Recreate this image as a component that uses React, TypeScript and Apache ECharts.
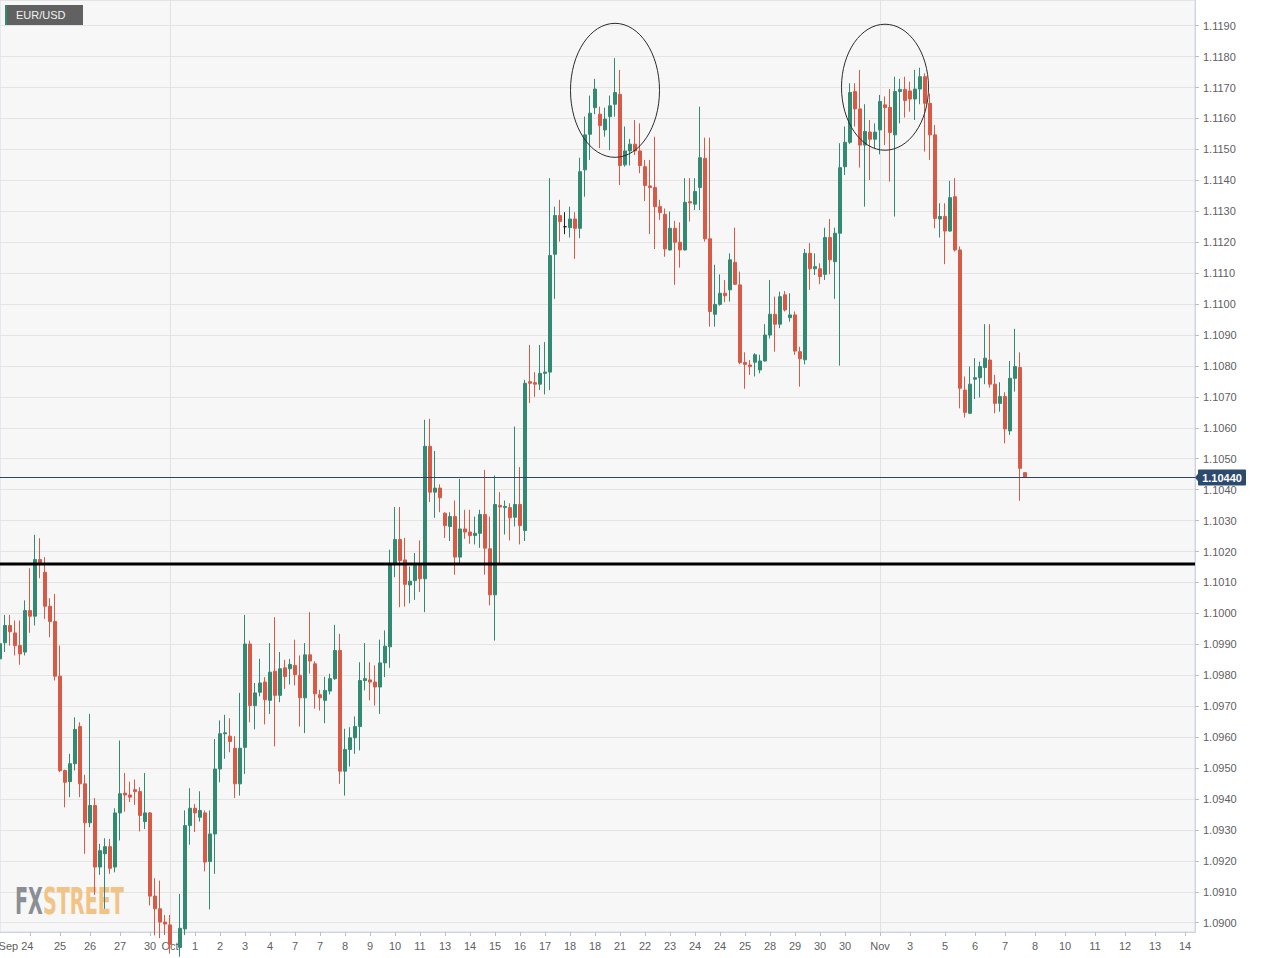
import React, { useEffect, useRef } from "react";
import * as echarts from "echarts";

// 4-hour EUR/USD candles, index 0 = left edge of the chart
const opens = [
  1.09853, 1.09905, 1.09961, 1.09937, 1.09896, 1.09875, 1.10009, 1.09991, 1.10174, 1.10133,
  1.10023, 1.09974, 1.09797, 1.09492, 1.09456, 1.09514, 1.09634, 1.09449, 1.09323, 1.09379,
  1.0918, 1.09223, 1.09246, 1.0918, 1.09355, 1.09419, 1.09413, 1.0943, 1.09424, 1.09327,
  1.09355, 1.09086, 1.09045, 1.09002, 1.08993, 1.0893, 1.0892, 1.0898, 1.09314, 1.0937,
  1.09341, 1.09355, 1.09198, 1.09287, 1.09497, 1.09611, 1.09603, 1.09564, 1.09449, 1.09567,
  1.09901, 1.09702, 1.09745, 1.09778, 1.09719, 1.09813, 1.09735, 1.09824, 1.09821, 1.09832,
  1.098, 1.09727, 1.09866, 1.09837, 1.09737, 1.09719, 1.09749, 1.09789, 1.0988, 1.0949,
  1.0956, 1.09598, 1.09634, 1.09783, 1.09785, 1.09778, 1.09762, 1.0984, 1.09892, 1.1016,
  1.10239, 1.10173, 1.10092, 1.10106, 1.10155, 1.10112, 1.1054, 1.10392, 1.10405, 1.10324,
  1.10281, 1.10313, 1.10182, 1.10273, 1.10263, 1.10252, 1.10259, 1.1032, 1.10209, 1.1006,
  1.10349, 1.10342, 1.10342, 1.10311, 1.10352, 1.10268, 1.10749, 1.10746, 1.10741, 1.10776,
  1.1078, 1.11161, 1.11286, 1.1125, 1.11247, 1.11275, 1.11245, 1.11434, 1.11549, 1.11635,
  1.11614, 1.11563, 1.11606, 1.11646, 1.11678, 1.1145, 1.11495, 1.11517, 1.11495, 1.11444,
  1.11382, 1.11377, 1.11315, 1.1129, 1.11175, 1.11245, 1.112, 1.11175, 1.11331, 1.11323,
  1.11377, 1.11471, 1.11211, 1.10967, 1.10999, 1.11035, 1.11046, 1.11135, 1.11062, 1.10811,
  1.10803, 1.10812, 1.10787, 1.10816, 1.109, 1.10967, 1.10935, 1.1103, 1.10956, 1.10965,
  1.10846, 1.1082, 1.11164, 1.11114, 1.11114, 1.11096, 1.11215, 1.11137, 1.11229, 1.11444,
  1.11523, 1.11687, 1.11631, 1.11514, 1.11556, 1.11533, 1.11563, 1.11644, 1.11636, 1.11547,
  1.11687, 1.11694, 1.11689, 1.11663, 1.11695, 1.11735, 1.11649, 1.11547, 1.11275, 1.11283,
  1.11236, 1.11347, 1.11175, 1.10722, 1.10647, 1.10757, 1.10762, 1.10795, 1.10819, 1.10741,
  1.10679, 1.10701, 1.1059, 1.1076, 1.10795, 1.10455,
];
const closes = [
  1.09902, 1.09961, 1.09941, 1.09896, 1.09869, 1.10009, 1.09991, 1.10174, 1.1016, 1.10023,
  1.09974, 1.09797, 1.09492, 1.09454, 1.09514, 1.09625, 1.09449, 1.09323, 1.09379, 1.0918,
  1.09233, 1.09246, 1.09176, 1.09355, 1.09417, 1.09413, 1.09406, 1.09424, 1.09347, 1.09355,
  1.09086, 1.09045, 1.09002, 1.08996, 1.0893, 1.0891, 1.08982, 1.09314, 1.0937, 1.09355,
  1.09363, 1.09196, 1.09287, 1.09497, 1.09611, 1.09614, 1.09586, 1.09449, 1.09564, 1.09901,
  1.09702, 1.09743, 1.09775, 1.09721, 1.0981, 1.09735, 1.09821, 1.09796, 1.09835, 1.09802,
  1.09727, 1.09866, 1.09846, 1.0974, 1.09727, 1.09751, 1.09789, 1.0988, 1.0949, 1.0956,
  1.09598, 1.09634, 1.09783, 1.09789, 1.09778, 1.09762, 1.0984, 1.09894, 1.1016, 1.10239,
  1.10171, 1.10094, 1.10104, 1.10155, 1.10112, 1.1054, 1.10392, 1.10405, 1.10374, 1.10284,
  1.10313, 1.10182, 1.10273, 1.10263, 1.10252, 1.10259, 1.1032, 1.10211, 1.1006, 1.10352,
  1.10344, 1.10346, 1.10309, 1.10352, 1.10284, 1.10744, 1.10744, 1.10741, 1.10776, 1.1078,
  1.11157, 1.11286, 1.11267, 1.1125, 1.11275, 1.11245, 1.11428, 1.11547, 1.11617, 1.11695,
  1.11577, 1.11598, 1.11641, 1.11684, 1.11448, 1.11495, 1.11517, 1.11495, 1.11448, 1.11383,
  1.11377, 1.11315, 1.11296, 1.11178, 1.11245, 1.112, 1.11175, 1.11329, 1.11327, 1.11364,
  1.11473, 1.11211, 1.10976, 1.10999, 1.11035, 1.11027, 1.11143, 1.11064, 1.10811, 1.10805,
  1.10798, 1.10836, 1.10816, 1.109, 1.10967, 1.10935, 1.11024, 1.10981, 1.10965, 1.10848,
  1.10823, 1.11164, 1.11114, 1.11121, 1.11089, 1.11215, 1.11143, 1.11229, 1.11441, 1.11523,
  1.11684, 1.11631, 1.11514, 1.11558, 1.11533, 1.11556, 1.11655, 1.11635, 1.11555, 1.11687,
  1.11694, 1.11658, 1.11663, 1.11695, 1.11735, 1.11649, 1.11547, 1.11277, 1.11283, 1.11236,
  1.11344, 1.11175, 1.10728, 1.1065, 1.10741, 1.10762, 1.10798, 1.10825, 1.10741, 1.10679,
  1.10701, 1.10596, 1.1076, 1.10798, 1.10469, 1.1044,
];
const lows = [
  1.09799, 1.09875, 1.09896, 1.09864, 1.09834, 1.09864, 1.09937, 1.09961, 1.10114, 1.09982,
  1.09923, 1.09783, 1.09487, 1.09373, 1.09406, 1.09492, 1.09406, 1.09223, 1.09309, 1.0909,
  1.09155, 1.09045, 1.09158, 1.09163, 1.09266, 1.09359, 1.0939, 1.09381, 1.09295, 1.09303,
  1.09056, 1.08959, 1.0895, 1.0896, 1.089, 1.0887, 1.0889, 1.0896, 1.09252, 1.09293,
  1.09327, 1.09166, 1.09043, 1.09158, 1.09454, 1.0953, 1.09551, 1.09403, 1.09411, 1.09481,
  1.09648, 1.09625, 1.09732, 1.09641, 1.09675, 1.0957, 1.09713, 1.09756, 1.0977, 1.09767,
  1.09634, 1.09613, 1.09805, 1.09692, 1.09686, 1.09645, 1.09738, 1.09785, 1.09449, 1.09411,
  1.09505, 1.09546, 1.09557, 1.09751, 1.09719, 1.09702, 1.09675, 1.09794, 1.09824, 1.10117,
  1.1002, 1.10022, 1.10033, 1.10044, 1.10069, 1.10004, 1.1036, 1.10309, 1.10327, 1.10244,
  1.10234, 1.10125, 1.10162, 1.10241, 1.10225, 1.10223, 1.10212, 1.10125, 1.10026, 1.09912,
  1.10158, 1.10255, 1.10236, 1.10281, 1.10223, 1.10234, 1.1068, 1.107, 1.10722, 1.10708,
  1.10722, 1.11017, 1.11202, 1.11226, 1.11215, 1.11146, 1.11213, 1.11347, 1.11466, 1.11614,
  1.11504, 1.11541, 1.11498, 1.11606, 1.11385, 1.11444, 1.11448, 1.11482, 1.11423, 1.11333,
  1.11226, 1.11178, 1.11272, 1.11153, 1.11173, 1.11062, 1.11118, 1.11173, 1.11267, 1.11304,
  1.11304, 1.11202, 1.10927, 1.10927, 1.10995, 1.11006, 1.11008, 1.11062, 1.10805, 1.10726,
  1.10771, 1.10766, 1.10776, 1.10814, 1.10889, 1.10846, 1.10922, 1.10976, 1.10943, 1.10836,
  1.10733, 1.10805, 1.11046, 1.11094, 1.11064, 1.11078, 1.11096, 1.11017, 1.10801, 1.11417,
  1.11517, 1.11574, 1.11441, 1.11315, 1.11401, 1.11504, 1.11484, 1.11514, 1.11396, 1.11283,
  1.11584, 1.11603, 1.11622, 1.11595, 1.11646, 1.11493, 1.11466, 1.11245, 1.11215, 1.11129,
  1.11234, 1.1117, 1.10663, 1.10633, 1.10644, 1.10693, 1.10698, 1.10741, 1.1073, 1.10647,
  1.10652, 1.1055, 1.10577, 1.10717, 1.10364, 1.1044,
];
const highs = [
  1.10015, 1.09995, 1.09995, 1.09977, 1.09977, 1.10042, 1.10146, 1.10254, 1.10243, 1.10182,
  1.10049, 1.10063, 1.09896, 1.09495, 1.09546, 1.09664, 1.09648, 1.09478, 1.09675, 1.09403,
  1.09255, 1.09273, 1.09271, 1.0937, 1.09589, 1.09484, 1.09456, 1.09463, 1.09438, 1.09484,
  1.09358, 1.09144, 1.09136, 1.09025, 1.09025, 1.0896, 1.09093, 1.09363, 1.09435, 1.09384,
  1.09425, 1.09363, 1.09363, 1.09594, 1.09654, 1.09672, 1.09661, 1.09603, 1.09743, 1.09995,
  1.09912, 1.09775, 1.09853, 1.09794, 1.09904, 1.09988, 1.09875, 1.0985, 1.09853, 1.09915,
  1.09864, 1.09904, 1.10004, 1.09845, 1.09753, 1.09795, 1.09805, 1.09963, 1.09934, 1.09627,
  1.09632, 1.09667, 1.09842, 1.09904, 1.09842, 1.09832, 1.09915, 1.09945, 1.10206, 1.10344,
  1.10344, 1.10244, 1.10152, 1.10195, 1.10236, 1.10626, 1.10629, 1.10525, 1.10417, 1.10327,
  1.10327, 1.10365, 1.10435, 1.10335, 1.10335, 1.10313, 1.10335, 1.10464, 1.10313, 1.10446,
  1.10392, 1.10365, 1.10356, 1.10604, 1.10473, 1.10755, 1.10868, 1.1078, 1.10868, 1.10877,
  1.11407, 1.11315, 1.11337, 1.11297, 1.11315, 1.11297, 1.11473, 1.11606, 1.11674, 1.11728,
  1.11638, 1.11635, 1.11674, 1.11795, 1.11757, 1.11574, 1.11534, 1.11595, 1.11584, 1.11466,
  1.11466, 1.11541, 1.11337, 1.11309, 1.11299, 1.11269, 1.11264, 1.11407, 1.11407, 1.11407,
  1.11638, 1.11538, 1.11538, 1.11127, 1.11096, 1.11078, 1.11164, 1.11247, 1.11105, 1.10844,
  1.10819, 1.10841, 1.10836, 1.10935, 1.11078, 1.11024, 1.1104, 1.11042, 1.11035, 1.10976,
  1.10862, 1.11178, 1.11197, 1.11164, 1.11132, 1.11247, 1.11275, 1.11247, 1.1152, 1.11574,
  1.11714, 1.11714, 1.11757, 1.11646, 1.11595, 1.11584, 1.11676, 1.11671, 1.11695, 1.11735,
  1.11728, 1.11735, 1.11719, 1.11757, 1.11764, 1.11746, 1.11681, 1.11579, 1.11326, 1.11326,
  1.11398, 1.11407, 1.11186, 1.10766, 1.10798, 1.10825, 1.10814, 1.10935, 1.10935, 1.10771,
  1.10747, 1.10715, 1.10816, 1.1092, 1.10844, 1.10455,
];

// x axis: one slot per 4-hour bar, including the empty future area
const slotCount = 240;
const xLabelIndex = [
  6, 12, 18, 24, 30, 34, 39, 44, 49, 54, 59, 64, 69, 74, 79, 84, 89, 94, 99, 104, 109, 114,
  119, 124, 129, 134, 139, 144, 149, 154, 159, 164, 169, 176, 182, 189, 195, 201, 207, 213,
  219, 225, 231, 237,
];
const xLabelText = [
  "Sep 24", "25", "26", "27", "30", "Oct", "1", "2", "3", "4", "7", "7", "8", "9", "10", "11",
  "13", "14", "15", "16", "17", "18", "18", "21", "22", "23", "24", "24", "25", "28", "29",
  "30", "30", "Nov", "3", "5", "6", "7", "8", "10", "11", "12", "13", "14",
];
const monthLineIndex = [34, 176];

// y axis range
const yMin = 1.0897;
const yMax = 1.11983;

// annotations
const supportLevel = 1.1016;
const lastPrice = 1.1044;
const circleIndex = [123, 177.2];
const circlePrice = [1.11691, 1.11701];
const circleRx = [44.5, 43.5];
const circleRy = [67, 63];

const UP = "#338a72";
const DOWN = "#d75a47";
const NAVY = "#2c4a6e";
const FONT = '"Liberation Sans", Arial, sans-serif';

export default function App() {
  const ref = useRef<HTMLDivElement>(null);

  useEffect(() => {
    if (!ref.current) return;
    const chart = echarts.init(ref.current, undefined, { renderer: "svg" });

    const labelMap: Record<number, string> = {};
    xLabelIndex.forEach((ix, j) => {
      labelMap[ix] = xLabelText[j];
    });
    const categories = Array.from({ length: slotCount }, (_, i) => String(i));
    const data = opens.map((o, i) => [o, closes[i], lows[i], highs[i]]);

    chart.setOption({
      animation: false,
      grid: {
        left: 0,
        top: 0,
        width: 1195,
        height: 932,
        outerBoundsMode: "none",
        containLabel: false,
        show: true,
        backgroundColor: "#f7f7f7",
        borderColor: "#d5d9e8",
        borderWidth: 1,
      },
      xAxis: {
        type: "category",
        data: categories,
        boundaryGap: false,
        axisLine: { show: true, lineStyle: { color: "#cfd4e4" } },
        axisTick: {
          show: true,
          length: 4,
          interval: (i: number) => labelMap[i] !== undefined,
          lineStyle: { color: "#b9bece" },
        },
        axisLabel: {
          interval: (i: number) => labelMap[i] !== undefined,
          formatter: (_v: string, i: number) =>
            labelMap[i] === "Sep 24" ? "{s|Sep 24}" : labelMap[i] ?? "",
          color: "#606060",
          fontSize: 11,
          fontFamily: FONT,
          margin: 8,
          rich: {
            s: { padding: [0, 28, 0, 0], color: "#606060", fontSize: 11, fontFamily: FONT },
          },
        },
        splitLine: {
          show: true,
          interval: (i: number) => monthLineIndex.includes(i),
          lineStyle: { color: "#e2e2e2", width: 1 },
        },
      },
      yAxis: {
        type: "value",
        position: "right",
        min: yMin,
        max: yMax,
        splitNumber: 30,
        minInterval: 0.001,
        maxInterval: 0.001,
        axisLine: { show: true, lineStyle: { color: "#cfd4e4" } },
        axisTick: { show: true, length: 4, lineStyle: { color: "#b9bece" } },
        axisLabel: {
          formatter: (v: number) => v.toFixed(4),
          showMinLabel: false,
          showMaxLabel: false,
          color: "#606060",
          fontSize: 11,
          fontFamily: FONT,
          margin: 8,
        },
        splitLine: { show: true, lineStyle: { color: "#e4e4e4", width: 1 } },
      },
      series: [
        {
          type: "candlestick",
          data,
          barWidth: 4,
          clip: true,
          itemStyle: {
            color: UP,
            color0: DOWN,
            borderColor: UP,
            borderColor0: DOWN,
            borderColorDoji: "#1e1e1e",
            borderWidth: 1,
          },
        },
      ],
    });

    // annotations positioned from data coordinates
    const graphics: any[] = [];
    const toPx = (ix: number, v: number) =>
      chart.convertToPixel({ gridIndex: 0 }, [ix, v]) as number[];
    const plotLeft = toPx(0, yMin)[0];
    const plotRight = toPx(slotCount - 1, yMin)[0];

    // support level (thick black)
    const sy = toPx(0, supportLevel)[1];
    graphics.push({
      type: "line",
      z: 10,
      silent: true,
      shape: { x1: plotLeft, y1: sy, x2: plotRight, y2: sy },
      style: { stroke: "#000000", lineWidth: 3 },
    });

    // last price line and tag
    const ly = Math.round(toPx(0, lastPrice)[1]) + 0.5;
    graphics.push({
      type: "line",
      z: 10,
      silent: true,
      shape: { x1: plotLeft, y1: ly, x2: plotRight, y2: ly },
      style: { stroke: "#2c4668", lineWidth: 1 },
    });
    graphics.push({
      type: "polygon",
      z: 11,
      silent: true,
      shape: {
        points: [
          [plotRight, ly],
          [plotRight + 4, ly - 5],
          [plotRight + 4, ly + 5],
        ],
      },
      style: { fill: NAVY },
    });
    graphics.push({
      type: "rect",
      z: 11,
      silent: true,
      shape: { x: plotRight + 3, y: ly - 8, width: 48, height: 16, r: 1 },
      style: { fill: NAVY },
    });
    graphics.push({
      type: "text",
      z: 12,
      silent: true,
      x: plotRight + 27,
      y: ly,
      style: {
        text: lastPrice.toFixed(5),
        fill: "#ffffff",
        font: `bold 11px ${FONT}`,
        textAlign: "center",
        textVerticalAlign: "middle",
      },
    });

    // circled tops
    circleIndex.forEach((ix, j) => {
      const p = toPx(ix, circlePrice[j]);
      graphics.push({
        type: "ellipse",
        z: 10,
        silent: true,
        shape: { cx: p[0], cy: p[1], rx: circleRx[j], ry: circleRy[j] },
        style: { fill: "none", stroke: "#2b2b2b", lineWidth: 1 },
      });
    });

    // symbol box top-left
    graphics.push({
      type: "group",
      left: 5,
      top: 5,
      z: 20,
      silent: true,
      children: [
        { type: "rect", shape: { x: 0, y: 0, width: 78, height: 20 }, style: { fill: "#616161" } },
        { type: "rect", shape: { x: 0, y: 0, width: 2, height: 20 }, style: { fill: "#2f8a70" } },
        {
          type: "text",
          x: 11,
          y: 10,
          style: {
            text: "EUR/USD",
            fill: "#f2f2f2",
            font: `11px ${FONT}`,
            textVerticalAlign: "middle",
          },
        },
      ],
    });

    // watermark
    const wmFont = 'bold 37px "DejaVu Sans Condensed", "DejaVu Sans", sans-serif';
    let sx = 0.6;
    let fxW = 40;
    try {
      const ctx = document.createElement("canvas").getContext("2d");
      if (ctx) {
        ctx.font = wmFont;
        const full = ctx.measureText("FXSTREET").width;
        fxW = ctx.measureText("FX").width;
        sx = 109 / full;
      }
    } catch (e) {
      /* ignore */
    }
    graphics.push({
      type: "text",
      x: 15,
      y: 883,
      scaleX: sx,
      z: 1,
      silent: true,
      style: { text: "FX", fill: "#8b8e95", font: wmFont, textVerticalAlign: "top" },
    });
    graphics.push({
      type: "text",
      x: 15 + fxW * sx,
      y: 883,
      scaleX: sx,
      z: 1,
      silent: true,
      style: { text: "STREET", fill: "#f1c384", font: wmFont, textVerticalAlign: "top" },
    });

    chart.setOption({ graphic: graphics });

    return () => chart.dispose();
  }, []);

  return (
    <div
      ref={ref}
      style={{ position: "fixed", left: 0, top: 0, width: 1266, height: 958, background: "#fff" }}
    />
  );
}
